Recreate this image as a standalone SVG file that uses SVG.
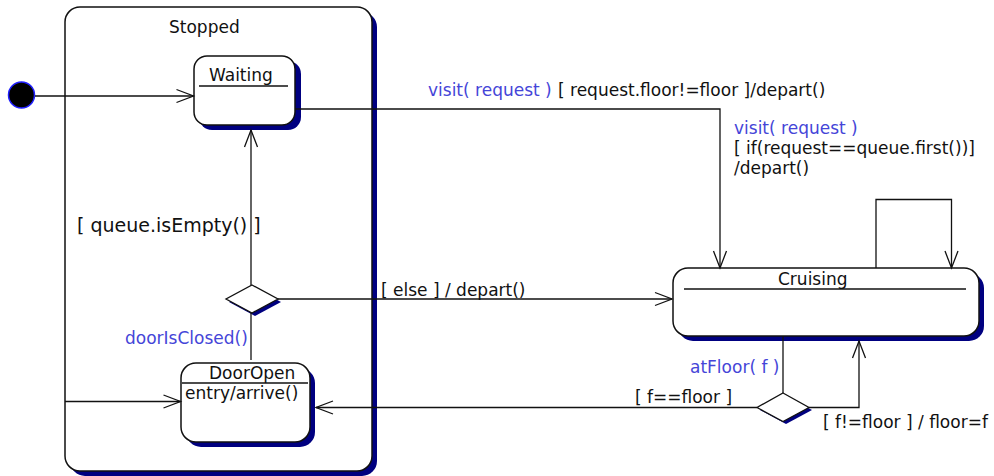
<svg xmlns="http://www.w3.org/2000/svg" width="994" height="476" viewBox="0 0 994 476">
  <style>
    text { font-family: "DejaVu Sans", "Liberation Sans", sans-serif; font-size: 17px; fill: #111; }
    .ev { fill: #4545d8; }
    .big { font-size: 19px; }
    .state { fill: #fff; stroke: #111; stroke-width: 1.5; }
    .shadow { fill: #000080; stroke: none; }
    .sep { stroke: #111; stroke-width: 1.3; }
    .edge { fill: none; stroke: #111; stroke-width: 1.3; }
  </style>
  <defs>
    <marker id="open" markerUnits="userSpaceOnUse" markerWidth="20" markerHeight="16" viewBox="-18 -8 20 16" refX="0" refY="0" orient="auto">
      <path d="M-17,-6.5 L0,0 L-17,6.5" fill="none" stroke="#111" stroke-width="1.3"/>
    </marker>
  </defs>

  <!-- composite state -->
  <g id="stopped">
    <rect class="shadow" x="70" y="12" width="307" height="464" rx="15"/>
    <rect class="state" x="65" y="7" width="307" height="464" rx="15"/>
    <text x="169" y="33">Stopped</text>
  </g>

  <g id="initial">
    <circle cx="21.5" cy="95" r="13" fill="#000" stroke="#2020ff" stroke-width="1.5"/>
  </g>

  <g id="waiting">
    <rect class="shadow" x="199" y="61" width="102" height="69" rx="13"/>
    <rect class="state" x="194" y="56" width="101" height="69" rx="13"/>
    <text x="209" y="81">Waiting</text>
    <line class="sep" x1="199" y1="86" x2="288" y2="86"/>
  </g>

  <g id="choice1">
    <polygon class="shadow" points="255,288 281,302 255,316 229,302"/>
    <polygon fill="#fff" stroke="#111" stroke-width="1.3" points="252,285 278,299 252,313 226,299"/>
  </g>

  <g id="dooropen">
    <rect class="shadow" x="186" y="368" width="129" height="79" rx="15"/>
    <rect class="state" x="181" y="363" width="129" height="79" rx="15"/>
    <text x="209" y="379">DoorOpen</text>
    <line class="sep" x1="182" y1="383" x2="308" y2="383"/>
    <text x="185" y="399">entry/arrive()</text>
  </g>

  <g id="cruising">
    <rect class="shadow" x="678" y="273" width="306" height="68" rx="15"/>
    <rect class="state" x="673" y="268" width="306" height="68" rx="15"/>
    <text x="778" y="285">Cruising</text>
    <line class="sep" x1="684" y1="289" x2="966" y2="289"/>
  </g>

  <g id="choice2">
    <polygon class="shadow" points="786,396 812,410 786,424 760,410"/>
    <polygon fill="#fff" stroke="#111" stroke-width="1.3" points="783,393 809,407.5 783,421.5 757,407.5"/>
  </g>

  <!-- transitions -->
  <g id="connectors">
    <path class="edge" d="M35,96 L193.5,96" marker-end="url(#open)"/>
    <path class="edge" d="M65,401.5 L180.5,401.5" marker-end="url(#open)"/>
    <path class="edge" d="M251,285 L251,130" marker-end="url(#open)"/>
    <path class="edge" d="M251,313 L251,360"/>
    <path class="edge" d="M278,299 L672,299" marker-end="url(#open)"/>
    <path class="edge" d="M295,109 L720,109 L720,268" marker-end="url(#open)"/>
    <path class="edge" d="M876,268 L876,199.5 L951.5,199.5 L951.5,268" marker-end="url(#open)"/>
    <path class="edge" d="M783,336 L783,393"/>
    <path class="edge" d="M809,407.5 L859,407.5 L859,341" marker-end="url(#open)"/>
    <path class="edge" d="M757,407.5 L316,407.5" marker-end="url(#open)"/>
  </g>

  <!-- transition labels -->
  <g id="labels">
    <text class="ev" x="428" y="96">visit( request )</text>
    <text x="558" y="96">[ request.floor!=floor ]/depart()</text>
    <text class="ev" x="734" y="134">visit( request )</text>
    <text x="734" y="154">[ if(request==queue.first())]</text>
    <text x="734" y="174">/depart()</text>
    <text class="big" x="77" y="232">[ queue.isEmpty() ]</text>
    <text class="ev" x="125" y="344">doorIsClosed()</text>
    <text x="381" y="296">[ else ] / depart()</text>
    <text class="ev" x="690" y="373">atFloor( f )</text>
    <text x="635" y="403">[ f==floor ]</text>
    <text x="823" y="428">[ f!=floor ] / floor=f</text>
  </g>
</svg>
